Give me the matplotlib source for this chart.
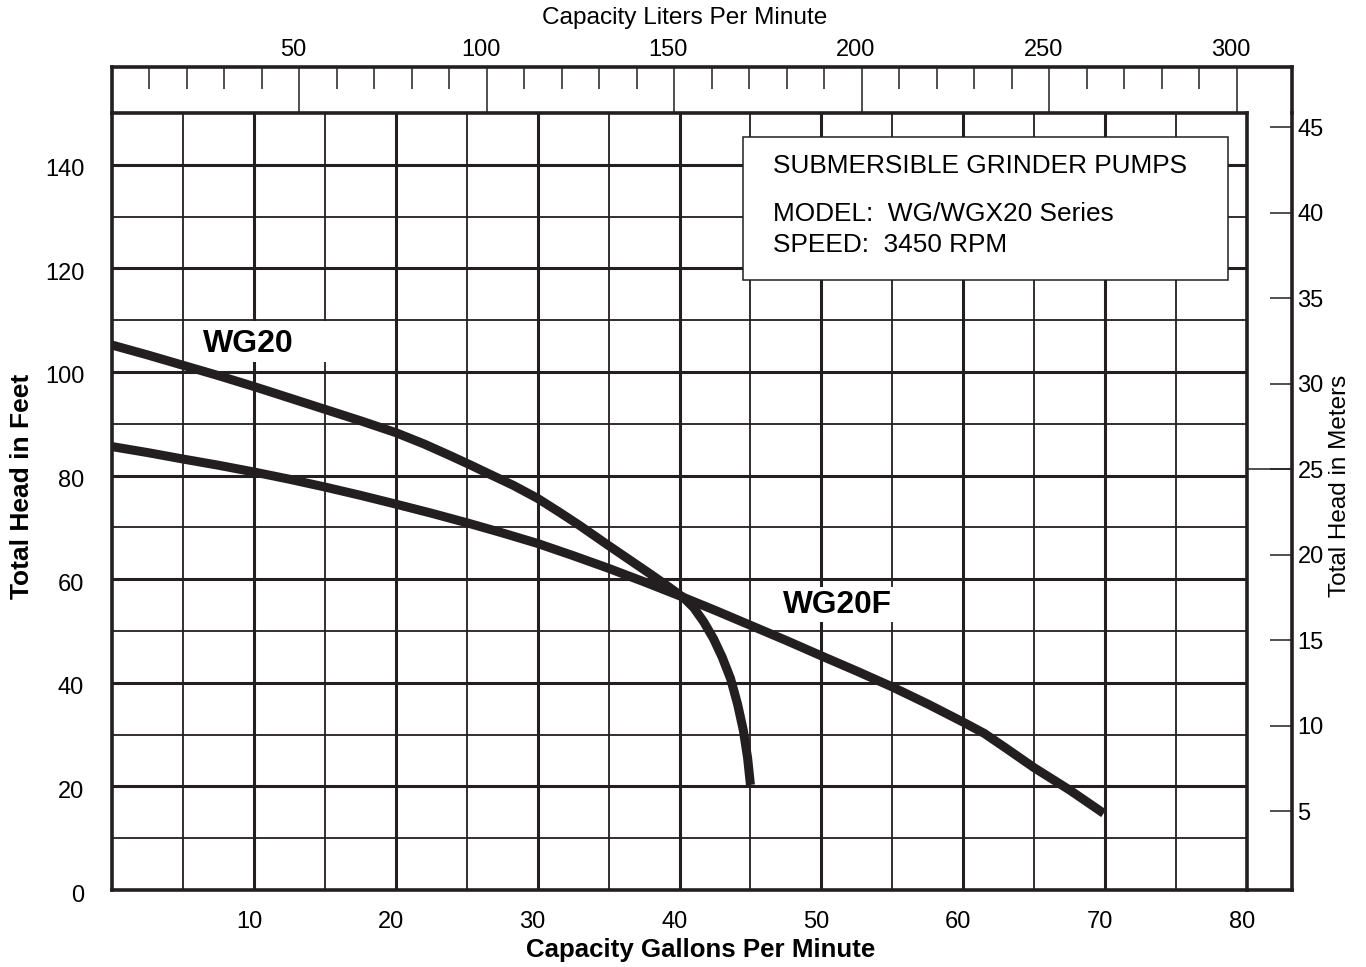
import matplotlib
matplotlib.use("Agg")
import matplotlib.pyplot as plt
from matplotlib.patches import Rectangle
from matplotlib.ticker import FixedLocator
from matplotlib.transforms import ScaledTranslation

plt.rcParams['font.family'] = ['Liberation Sans', 'DejaVu Sans']

# ---------------- data ----------------
wg20_gpm = [0, 2.5, 5, 7.5, 10, 12.5, 15, 17.5, 20, 22, 23.8, 25.3, 26.6, 28.3, 30, 31.5, 33, 34, 35,
            36.5, 38, 39.3, 40.3, 41.0, 41.7, 42.4, 43.0, 43.6, 44.1, 44.5, 44.8, 45.0]
wg20_ft  = [105.2, 103.3, 101.3, 99.3, 97.2, 95.0, 92.8, 90.6, 88.3, 86.1, 83.9, 82.0, 80.3, 78.1, 75.6, 73.0, 70.3, 68.4, 66.5,
            63.7, 60.9, 58.4, 56.4, 54.5, 51.8, 48.5, 45.0, 40.8, 35.8, 30.8, 25.5, 20.3]

wg20f_gpm = [0, 2.5, 5, 7.5, 10, 12.5, 15, 17.5, 20, 22.5, 25, 27.5, 30, 32.5, 35, 37.5, 40, 42.5, 45,
             47.5, 50, 52.5, 55, 57.5, 60, 61.5, 63, 65, 67.5, 69.9]
wg20f_ft  = [85.6, 84.45, 83.2, 82.0, 80.7, 79.3, 77.8, 76.2, 74.5, 72.75, 70.9, 68.95, 66.9, 64.55, 62.1, 59.5, 56.8, 54.0, 51.1,
             48.2, 45.2, 42.25, 39.2, 35.9, 32.4, 30.2, 27.4, 23.6, 19.3, 14.8]

gpm_ticks = [10, 20, 30, 40, 50, 60, 70, 80]
ft_ticks = [0, 20, 40, 60, 80, 100, 120, 140]
lpm_ticks = [50, 100, 150, 200, 250, 300]
lpm_minor = [v for v in range(10, 301, 10) if v % 50]
m_ticks = [5, 10, 15, 20, 25, 30, 35, 40, 45]

legend_lines = ["SUBMERSIBLE GRINDER PUMPS", "MODEL:  WG/WGX20 Series", "SPEED:  3450 RPM"]

# ---------------- layout ----------------
W, H = 1366, 967
dark = '#231f20'
def rect(l, t, r, b):
    return [l / W, 1 - b / H, (r - l) / W, (b - t) / H]

fig = plt.figure(figsize=(W / 100, H / 100), dpi=100)

ax = fig.add_axes(rect(112, 113, 1247, 890))
ax.set_xlim(0, 80)
ax.set_ylim(0, 150)
ax.xaxis.set_major_locator(FixedLocator(gpm_ticks))
ax.xaxis.set_minor_locator(FixedLocator([v for v in range(5, 80, 10)]))
ax.yaxis.set_major_locator(FixedLocator(ft_ticks))
ax.yaxis.set_minor_locator(FixedLocator([v for v in range(10, 150, 20)]))
ax.grid(which='major', color=dark, lw=2.2, zorder=1)
ax.grid(which='minor', color=dark, lw=1.3, zorder=1)
ax.set_axisbelow(True)
ax.tick_params(which='both', length=0)
ax.tick_params(axis='x', labelsize=17, pad=15, colors='black')
ax.tick_params(axis='y', labelsize=17, pad=20, colors='black')
for s in ax.spines.values():
    s.set_color(dark)
    s.set_linewidth(2.6)
for lab in ax.get_xticklabels():
    lab.set_transform(lab.get_transform() + ScaledTranslation(-5 / 100, 0, fig.dpi_scale_trans))
for lab in ax.get_yticklabels():
    lab.set_transform(lab.get_transform() + ScaledTranslation(0, -3 / 100, fig.dpi_scale_trans))

# white label patches
ax.add_patch(Rectangle((5.15, 102.0), 9.95, 7.8, fc='white', ec='none', zorder=2))
ax.add_patch(Rectangle((46.7, 51.8), 8.4, 6.7, fc='white', ec='none', zorder=2))

ax.plot(wg20_gpm, wg20_ft, color=dark, lw=6.5, solid_capstyle='butt', solid_joinstyle='round', zorder=4)
ax.plot(wg20f_gpm, wg20f_ft, color=dark, lw=6.5, solid_capstyle='butt', solid_joinstyle='round', zorder=4)

ax.text(6.41, 105.5, "WG20", fontsize=23, fontweight='bold', ha='left', va='center', zorder=5)
ax.text(47.3, 55.1, "WG20F", fontsize=22.8, fontweight='bold', ha='left', va='center', zorder=5)

# info box
ax.add_patch(Rectangle((0.556, 0.785), 0.427, 0.184, transform=ax.transAxes,
                       fc='white', ec=dark, lw=1.1, zorder=3))
for txt, yy in zip(legend_lines, [0.9318, 0.870, 0.830]):
    ax.text(0.5824, yy, txt, transform=ax.transAxes, fontsize=18.9, ha='left', va='center', zorder=5)

# top strip (liters per minute)
axt = fig.add_axes(rect(112, 67, 1292, 113))
axt.set_xlim(0, 1180 * 80 * 3.785 / 1135)
axt.set_ylim(0, 1)
axt.set_yticks([])
axt.xaxis.tick_top()
axt.xaxis.set_major_locator(FixedLocator(lpm_ticks))
axt.xaxis.set_minor_locator(FixedLocator(lpm_minor))
axt.tick_params(axis='x', which='major', direction='in', length=33.5, width=1.1, color=dark, labelsize=17, pad=4)
axt.tick_params(axis='x', which='minor', direction='in', length=16, width=1.1, color=dark)
for lab in axt.get_xticklabels():
    lab.set_transform(lab.get_transform() + ScaledTranslation(-6 / 100, 0, fig.dpi_scale_trans))
axt.spines['bottom'].set_visible(False)
for k in ['top', 'left', 'right']:
    axt.spines[k].set_color(dark)
    axt.spines[k].set_linewidth(2.6)
axt.patch.set_alpha(0)

# right strip (meters)
axr = fig.add_axes(rect(1247, 113, 1292, 890))
axr.set_xlim(0, 1)
axr.set_ylim(0.38, 45.82)
axr.set_xticks([])
axr.yaxis.tick_right()
axr.yaxis.set_major_locator(FixedLocator(m_ticks))
axr.tick_params(axis='y', direction='in', length=16, width=1.1, color=dark, labelsize=17, pad=4)
axr.axhline(25, color=dark, lw=1.1)
axr.spines['left'].set_visible(False)
axr.spines['top'].set_visible(False)
for k in ['right', 'bottom']:
    axr.spines[k].set_color(dark)
    axr.spines[k].set_linewidth(2.6)
axr.patch.set_alpha(0)

fig.text(685 / W, 1 - 18 / H, "Capacity Liters Per Minute", fontsize=17.6, ha='center', va='center')
fig.text(701 / W, 1 - 950 / H, "Capacity Gallons Per Minute", fontsize=18.6, fontweight='bold', ha='center', va='center')
fig.text(22 / W, 1 - 486 / H, "Total Head in Feet", fontsize=19, fontweight='bold', rotation=90, ha='center', va='center')
fig.text(1340 / W, 1 - 486 / H, "Total Head in Meters", fontsize=17.5, rotation=90, ha='center', va='center')

fig.savefig("out.png", dpi=100)
